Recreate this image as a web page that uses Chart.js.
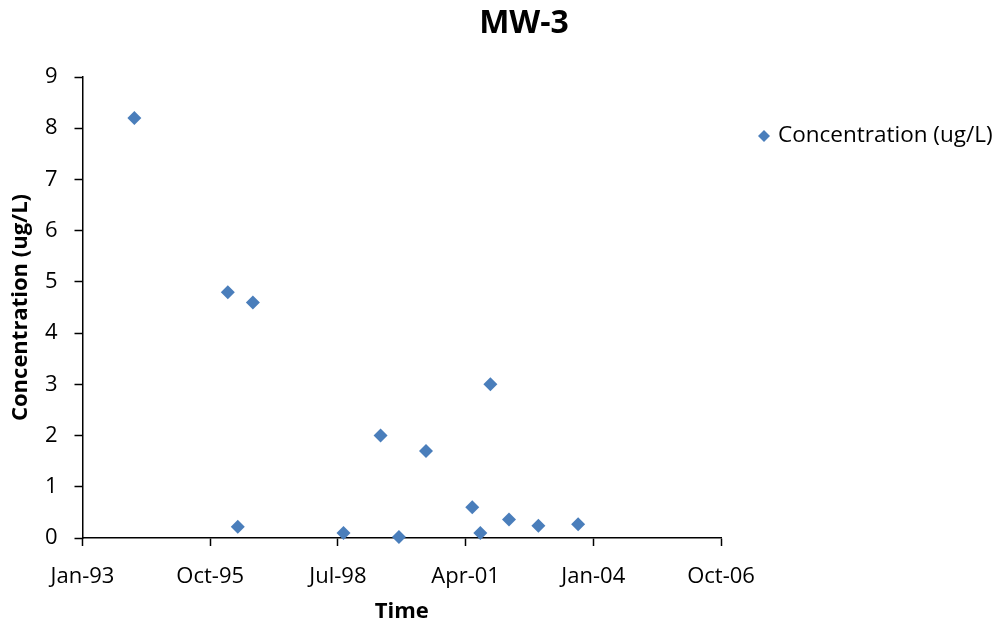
<!DOCTYPE html>
<html>
<head>
<meta charset="utf-8">
<script src="https://cdn.jsdelivr.net/npm/chart.js@4/dist/chart.umd.min.js"></script>
<style>
  html, body { margin: 0; padding: 0; background: #fff; }
  #wrap { width: 1008px; height: 630px; }
</style>
</head>
<body>
<div id="wrap"><canvas id="grafico"></canvas></div>
<script>
const tituloGrafico = 'MW-3';
const nomeSerie = 'Concentration (ug/L)';
const tituloX = 'Time';
const tituloY = 'Concentration (ug/L)';

// sample dates and concentrations
const datas = [
    '1994-03-13', '1996-03-14', '1996-05-31', '1996-09-26', '1998-09-06',
    '1999-06-23', '1999-11-14', '2000-06-13', '2001-06-10', '2001-08-12',
    '2001-10-30', '2002-03-25', '2002-11-10', '2003-09-17'
];
const concentracoes = [8.2, 4.8, 0.22, 4.6, 0.1, 2.0, 0.02, 1.7, 0.6, 0.1, 3.0, 0.36, 0.24, 0.27];

// x axis: Excel style date axis, 1000 day steps starting at 31 Jan 1993
const eixoXInicio = '1993-01-31';
const eixoXPasso = 1000;
const eixoXNumTicks = 6;
const eixoYMin = 0;
const eixoYMax = 9;
const eixoYPasso = 1;

const mesesAbrev = ['Jan', 'Feb', 'Mar', 'Apr', 'May', 'Jun', 'Jul', 'Aug', 'Sep', 'Oct', 'Nov', 'Dec'];
const DIA = 86400000;
const paraDias = s => Date.parse(s + 'T00:00:00Z') / DIA;
const diaInicio = paraDias(eixoXInicio);

function formatarData(v) {
    const d = new Date(Math.round(v) * DIA);
    return mesesAbrev[d.getUTCMonth()] + '-' + String(d.getUTCFullYear()).slice(-2);
}

const pontos = datas.map((d, i) => ({ x: paraDias(d), y: concentracoes[i] }));

const fonte = "'Open Sans', 'Noto Sans', sans-serif";
const azul = '#4A7EBB';

// title and legend drawn by hand so they sit where Excel put them
const tituloELegenda = {
    id: 'tituloELegenda',
    afterDraw(chart) {
        const ctx = chart.ctx;
        ctx.save();
        ctx.fillStyle = '#000';
        ctx.textBaseline = 'middle';
        ctx.textAlign = 'center';
        ctx.font = 'bold 32px ' + fonte;
        ctx.fillText(tituloGrafico, 524, 24);

        const lx = 764, ly = 136, r = 6;
        ctx.fillStyle = azul;
        ctx.beginPath();
        ctx.moveTo(lx, ly - r);
        ctx.lineTo(lx + r, ly);
        ctx.lineTo(lx, ly + r);
        ctx.lineTo(lx - r, ly);
        ctx.closePath();
        ctx.fill();

        ctx.fillStyle = '#000';
        ctx.textAlign = 'left';
        ctx.font = '22.5px ' + fonte;
        ctx.fillText(nomeSerie, 778, ly);
        ctx.restore();
    }
};

const ctx = document.getElementById('grafico').getContext('2d');
new Chart(ctx, {
    type: 'scatter',
    data: {
        datasets: [{
            label: nomeSerie,
            data: pontos,
            pointStyle: 'rectRot',
            pointRadius: 7,
            pointHoverRadius: 7,
            backgroundColor: azul,
            borderColor: azul,
            borderWidth: 0,
            clip: false
        }]
    },
    options: {
        responsive: true,
        maintainAspectRatio: false,
        animation: false,
        layout: { padding: { top: 77, right: 287, bottom: 0, left: 0 } },
        plugins: {
            legend: { display: false },
            title: { display: false },
            tooltip: { enabled: false }
        },
        scales: {
            x: {
                type: 'linear',
                min: diaInicio,
                max: diaInicio + eixoXPasso * (eixoXNumTicks - 1),
                afterBuildTicks: scale => {
                    scale.ticks = Array.from({ length: eixoXNumTicks }, (_, i) => ({ value: diaInicio + i * eixoXPasso }));
                },
                afterFit: scale => { scale.height = 92; },
                ticks: {
                    callback: v => formatarData(v),
                    color: '#000',
                    font: { family: fonte, size: 22 },
                    padding: 18,
                    maxRotation: 0,
                    autoSkip: false
                },
                grid: {
                    display: true,
                    drawOnChartArea: false,
                    drawTicks: true,
                    tickLength: 8,
                    tickColor: '#000',
                    tickWidth: 1.5
                },
                border: { display: true, color: '#000', width: 1.5 },
                title: {
                    display: true,
                    text: tituloX,
                    color: '#000',
                    font: { family: fonte, size: 22, weight: 'bold' },
                    padding: { top: 0, bottom: 5 }
                }
            },
            y: {
                min: eixoYMin,
                max: eixoYMax,
                afterFit: scale => { scale.width = 82.5; },
                ticks: {
                    stepSize: eixoYPasso,
                    color: '#000',
                    font: { family: fonte, size: 22 },
                    padding: 17
                },
                grid: {
                    display: true,
                    drawOnChartArea: false,
                    drawTicks: true,
                    tickLength: 8,
                    tickColor: '#000',
                    tickWidth: 1.5
                },
                border: { display: true, color: '#000', width: 1.5 },
                title: {
                    display: true,
                    text: tituloY,
                    color: '#000',
                    font: { family: fonte, size: 22, weight: 'bold' },
                    padding: { top: 8, bottom: 0 }
                }
            }
        }
    },
    plugins: [tituloELegenda]
});
</script>
</body>
</html>
